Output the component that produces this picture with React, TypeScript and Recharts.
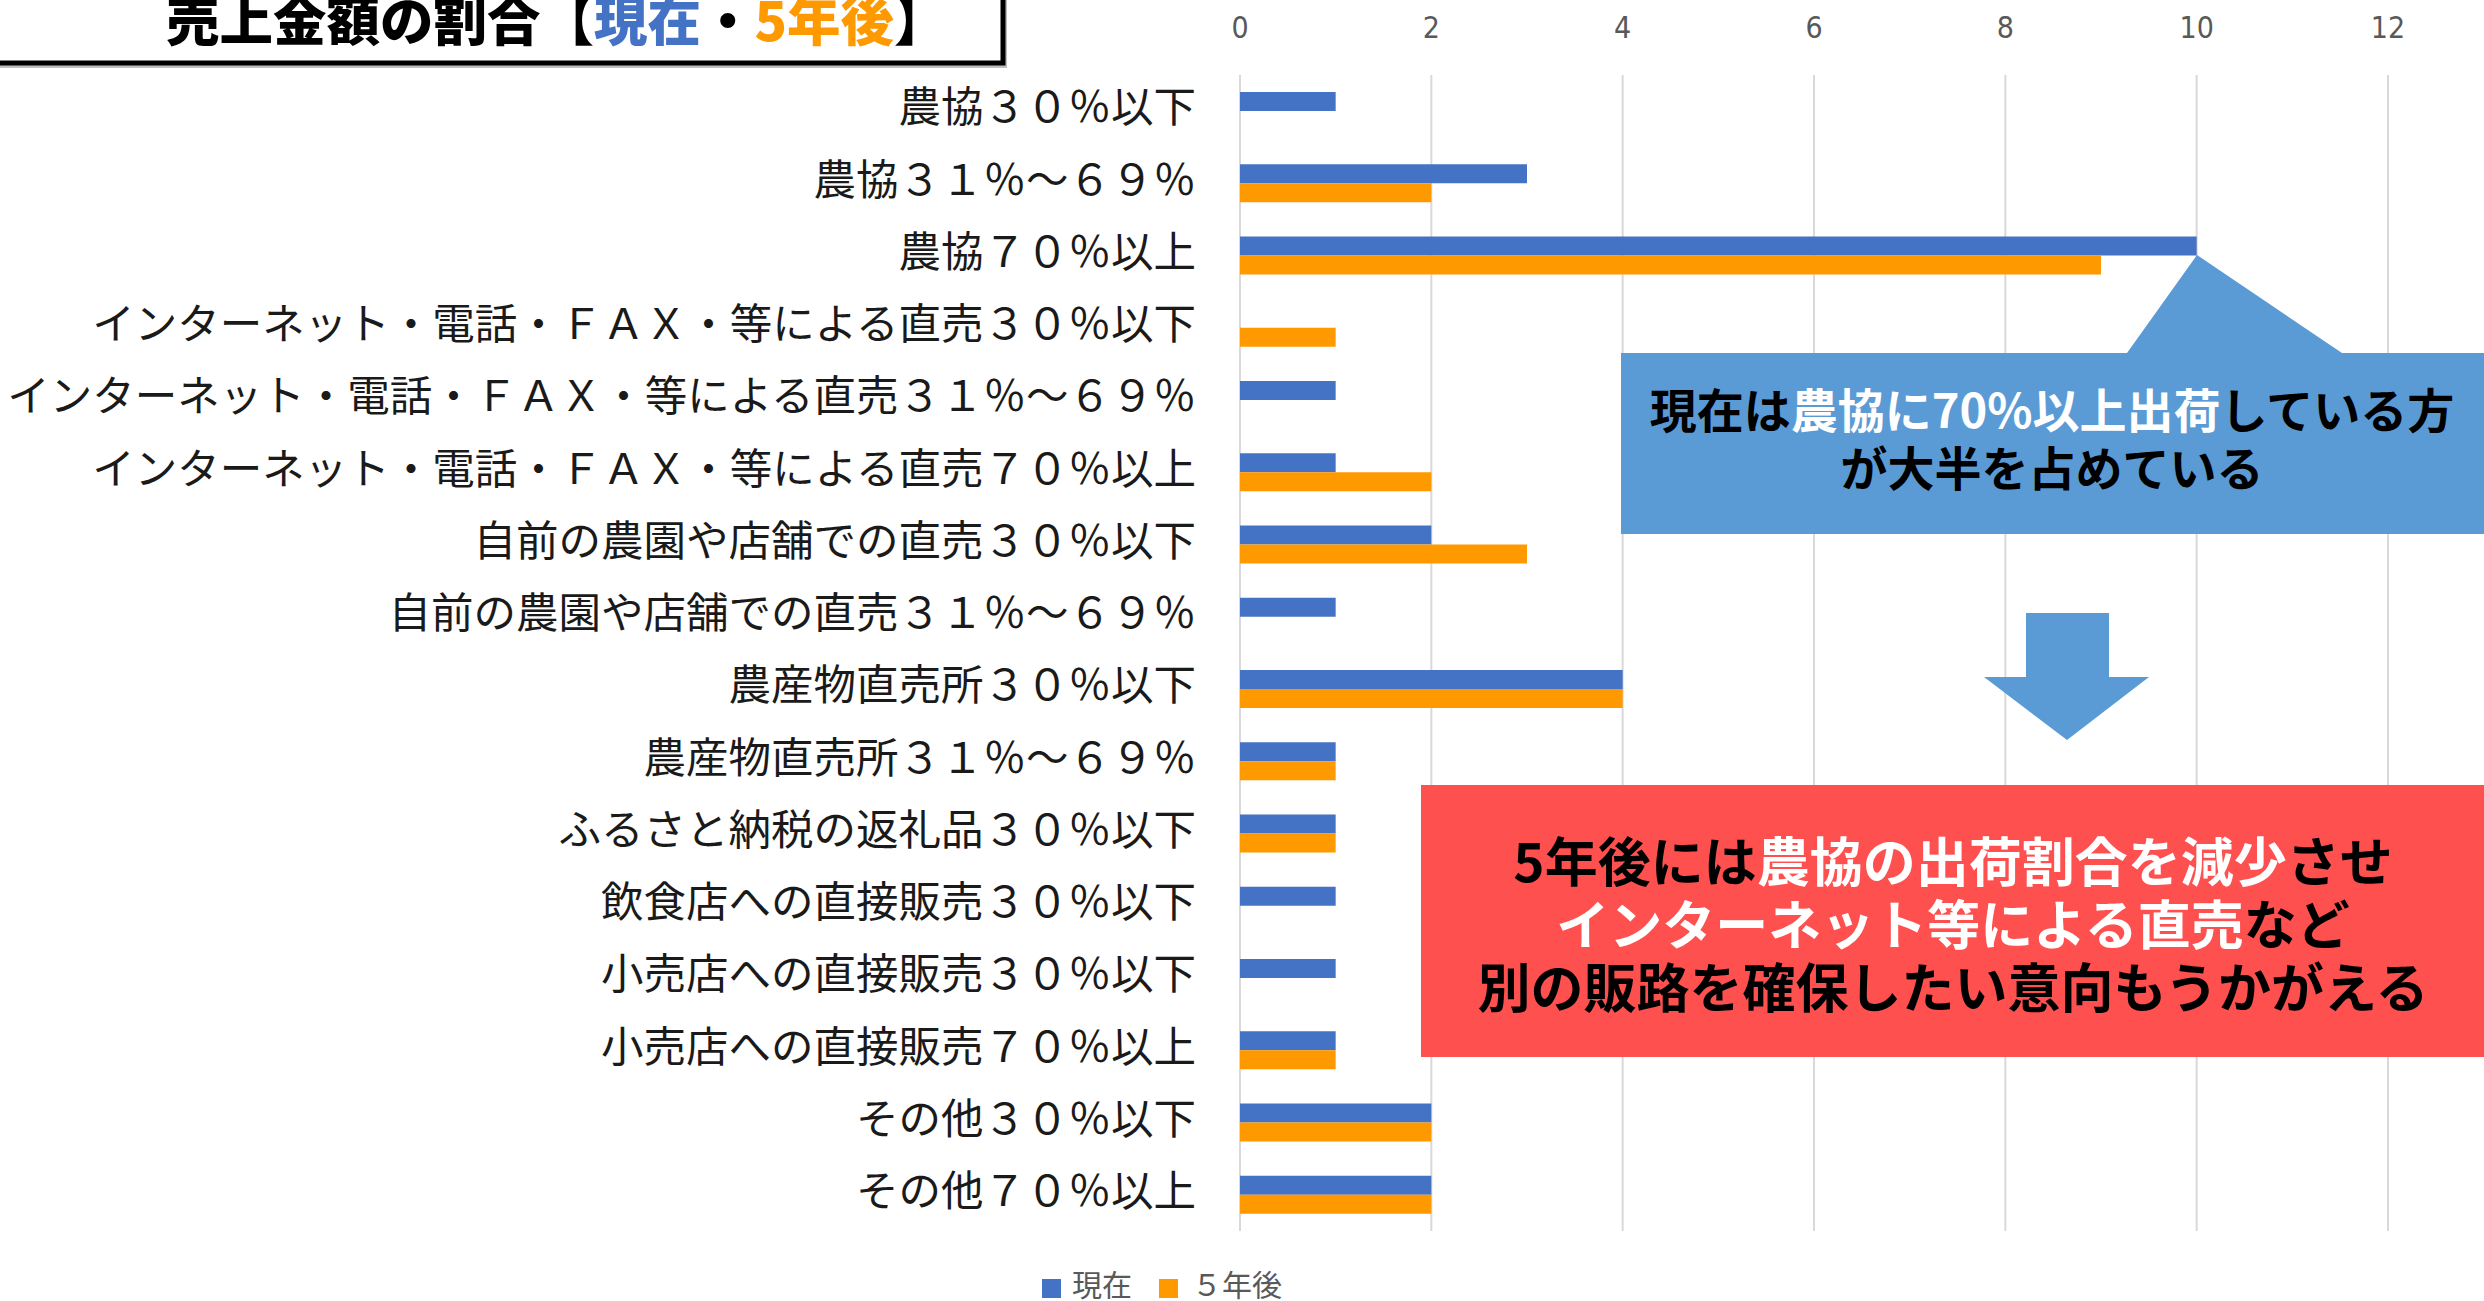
import { Bar, BarChart, CartesianGrid, XAxis, YAxis } from 'recharts';

const categories = [
  '農協３０％以下',
  '農協３１％～６９％',
  '農協７０％以上',
  'インターネット・電話・ＦＡＸ・等による直売３０％以下',
  'インターネット・電話・ＦＡＸ・等による直売３１％～６９％',
  'インターネット・電話・ＦＡＸ・等による直売７０％以上',
  '自前の農園や店舗での直売３０％以下',
  '自前の農園や店舗での直売３１％～６９％',
  '農産物直売所３０％以下',
  '農産物直売所３１％～６９％',
  'ふるさと納税の返礼品３０％以下',
  '飲食店への直接販売３０％以下',
  '小売店への直接販売３０％以下',
  '小売店への直接販売７０％以上',
  'その他３０％以下',
  'その他７０％以上'
];

const nowValues = [1, 3, 10, 0, 1, 1, 2, 1, 4, 1, 1, 1, 1, 1, 2, 2];
const laterValues = [0, 2, 9, 1, 0, 2, 3, 0, 4, 1, 1, 0, 0, 1, 2, 2];
const xTicks = [0, 2, 4, 6, 8, 10, 12];

const series = [
  { key: 'now', name: '現在', color: '#4472c4' },
  { key: 'later', name: '５年後', color: '#ff9900' }
];

const data = categories.map((name, i) => ({ name, now: nowValues[i], later: laterValues[i] }));

const jp = "'Noto Sans CJK JP', 'Noto Sans', sans-serif";
const W = 2484;
const H = 1301;

function XTick({ x, y, payload }: any) {
  return (
    <text
      x={x}
      y={y}
      textAnchor="middle"
      fill="#595959"
      fontSize={30}
      fontFamily="'Liberation Sans Narrow', 'DejaVu Sans Condensed', sans-serif"
    >
      {payload.value}
    </text>
  );
}

function YTick({ x, y, payload }: any) {
  return (
    <text x={x} y={y - 4} dy="0.36em" textAnchor="end" fill="#1a1a1a" fontSize={42.5} fontFamily={jp}>
      {payload.value}
    </text>
  );
}

function Overlay() {
  return (
    <svg width={W} height={H} style={{ position: 'absolute', left: 0, top: 0, pointerEvents: 'none' }}>
      {/* title box */}
      <rect x={-10} y={-10} width={1017} height={78} fill="#7f7f7f" opacity={0.5} />
      <rect x={-12} y={-12} width={1015} height={75} fill="#fff" stroke="#000" strokeWidth={5} />
      <text x={166} y={41} fontSize={53.5} fontWeight={900} fontFamily={jp} fill="#000">
        売上金額の割合【<tspan fill="#4472c4">現在</tspan>・<tspan fill="#ff9900">5年後</tspan>】
      </text>

      {/* blue callout */}
      <path d="M1621 353 L2127 353 L2197 255 L2342 353 L2484 353 L2484 534 L1621 534 Z" fill="#5b9bd5" />
      <text x={2052} y={428} textAnchor="middle" fontSize={47} fontWeight={700} fontFamily={jp} fill="#000">
        現在は<tspan fill="#fff">農協に70%以上出荷</tspan>している方
      </text>
      <text x={2052} y={486} textAnchor="middle" fontSize={47} fontWeight={700} fontFamily={jp} fill="#000">
        が大半を占めている
      </text>

      {/* arrow */}
      <path d="M2026 613 L2109 613 L2109 677 L2149 677 L2067 740 L1984 677 L2026 677 Z" fill="#5b9bd5" />

      {/* red box */}
      <rect x={1421} y={785} width={W - 1421} height={272} fill="#ff5050" />
      <text x={1953} y={882} textAnchor="middle" fontSize={53} fontWeight={700} fontFamily={jp} fill="#000">
        5年後には<tspan fill="#fff">農協の出荷割合を減少</tspan>させ
      </text>
      <text x={1953} y={945} textAnchor="middle" fontSize={53} fontWeight={700} fontFamily={jp} fill="#000">
        <tspan fill="#fff">インターネット等による直売</tspan>など
      </text>
      <text x={1953} y={1008} textAnchor="middle" fontSize={53} fontWeight={700} fontFamily={jp} fill="#000">
        別の販路を確保したい意向もうかがえる
      </text>

      {/* legend */}
      <rect x={1042} y={1279} width={19} height={19} fill={series[0].color} />
      <text x={1072} y={1296} fontSize={30} fontFamily={jp} fill="#595959">
        {series[0].name}
      </text>
      <rect x={1159} y={1279} width={19} height={19} fill={series[1].color} />
      <text x={1192} y={1296} fontSize={30} fontFamily={jp} fill="#595959">
        {series[1].name}
      </text>
    </svg>
  );
}

export default function App() {
  return (
    <div style={{ position: 'absolute', left: 0, top: 0, width: W, height: H, background: '#fff' }}>
      <BarChart
        width={W}
        height={H}
        data={data}
        layout="vertical"
        margin={{ top: 0, right: 96, bottom: 70, left: 0 }}
        barGap={0}
        barSize={19}
      >
        <CartesianGrid horizontal={false} stroke="#d9d9d9" strokeWidth={2} />
        <XAxis
          type="number"
          orientation="top"
          domain={[0, 12]}
          ticks={xTicks}
          height={75}
          tickLine={false}
          axisLine={false}
          tickSize={0}
          tickMargin={37}
          tick={<XTick />}
        />
        <YAxis
          type="category"
          dataKey="name"
          width={1240}
          tickLine={false}
          axisLine={false}
          tickSize={0}
          tickMargin={44}
          interval={0}
          tick={<YTick />}
        />
        {series.map((s) => (
          <Bar key={s.key} dataKey={s.key} name={s.name} fill={s.color} isAnimationActive={false} />
        ))}
      </BarChart>
      <Overlay />
    </div>
  );
}
